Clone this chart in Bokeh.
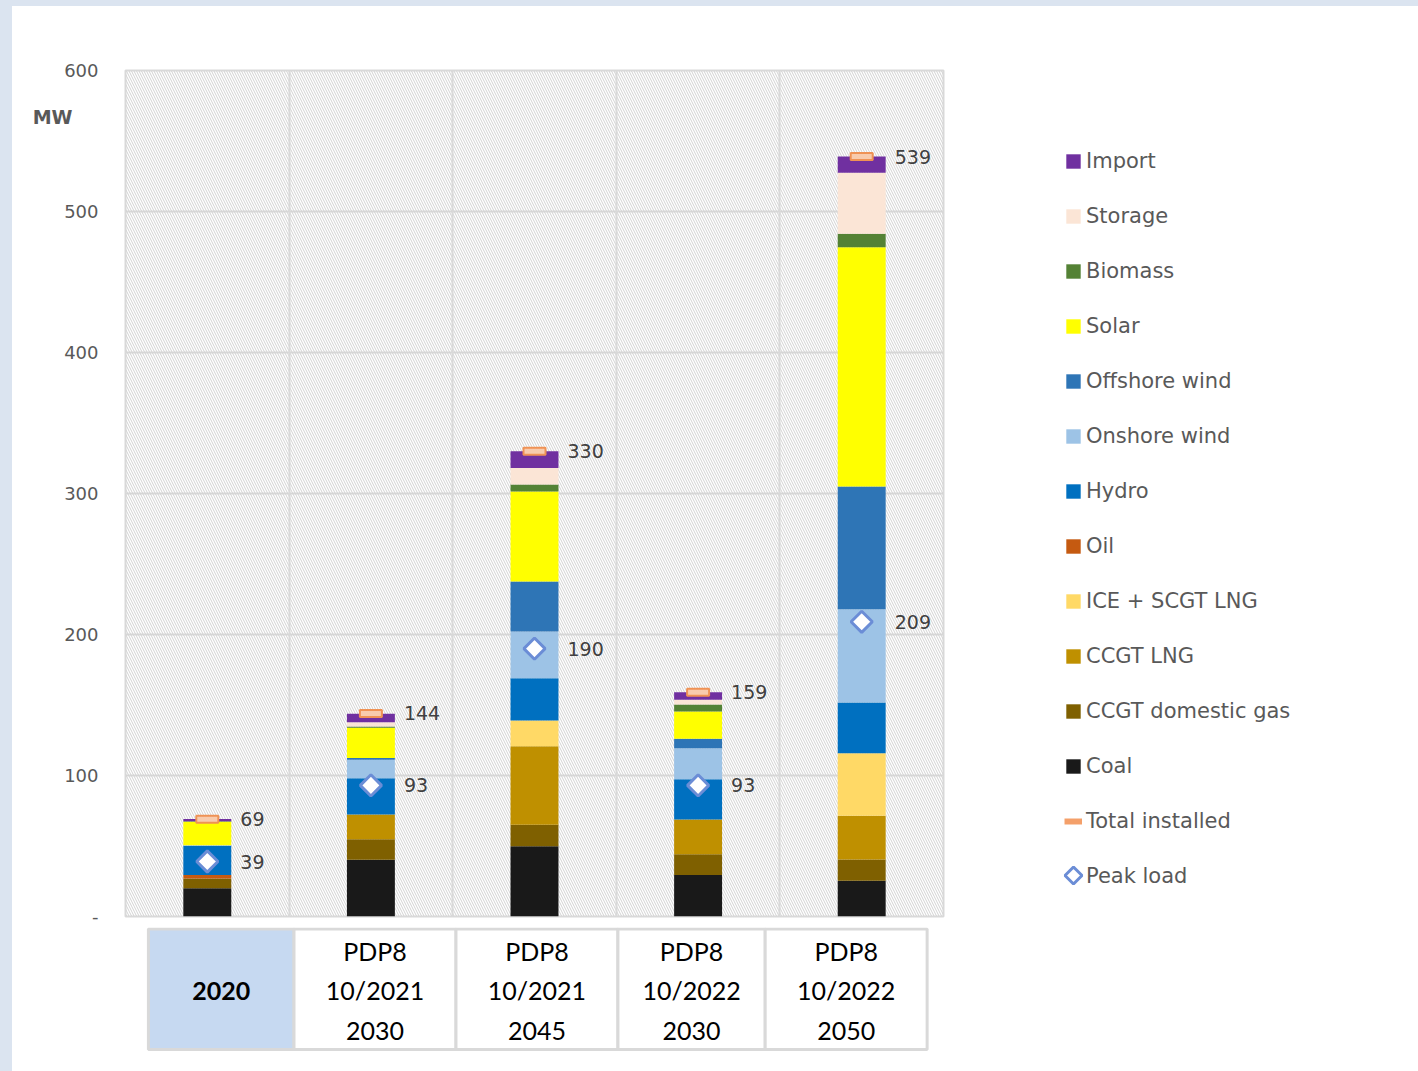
from bokeh.plotting import figure
from bokeh.models import (ColumnDataSource, Range1d, FixedTicker, BoxAnnotation,
                          Legend, LegendItem, Grid, LinearAxis)
from bokeh.layouts import column, row
from bokeh.embed import file_html
from bokeh.resources import INLINE
from bokeh.core.properties import value
import math

# ---------------- data ----------------
scenarios = ["2020", "PDP8\n10/2021\n2030", "PDP8\n10/2021\n2045",
             "PDP8\n10/2022\n2030", "PDP8\n10/2022\n2050"]
coal = [20.0, 40.2, 49.9, 29.5, 25.4]
ccgt_domestic_gas = [7.0, 14.6, 15.1, 14.7, 15.0]
ccgt_lng = [0.0, 17.5, 55.8, 24.6, 31.0]
ice_scgt_lng = [0.0, 0.0, 18.2, 0.0, 44.3]
oil = [2.4, 0.0, 0.0, 0.0, 0.0]
hydro = [20.7, 25.8, 30.0, 28.6, 36.1]
onshore_wind = [0.5, 13.0, 33.1, 22.0, 66.1]
offshore_wind = [0.0, 1.4, 35.5, 6.6, 87.1]
solar = [16.6, 21.3, 63.8, 19.4, 169.6]
biomass = [0.3, 1.0, 5.0, 5.0, 9.7]
storage = [0.0, 3.0, 11.6, 3.3, 43.2]
imports = [1.6, 6.0, 12.0, 5.3, 11.5]
total_installed = [69, 144, 330, 159, 539]
peak_load = [39, 93, 190, 93, 209]
y_ticks = [0, 100, 200, 300, 400, 500, 600]
unit_label = "MW"

series_names = ["Coal", "CCGT domestic gas", "CCGT LNG", "ICE + SCGT LNG", "Oil",
                "Hydro", "Onshore wind", "Offshore wind", "Solar", "Biomass",
                "Storage", "Import"]
series_values = [coal, ccgt_domestic_gas, ccgt_lng, ice_scgt_lng, oil, hydro,
                 onshore_wind, offshore_wind, solar, biomass, storage, imports]
series_colors = ["#191919", "#7f6000", "#bf9000", "#ffd966", "#c55a11", "#0070c0",
                 "#9dc3e6", "#2e75b6", "#ffff00", "#548235", "#fbe5d6", "#7030a0"]

# ---------------- style / layout constants ----------------
FONT = "DejaVu Sans"
TXT = "#595959"
GRID = "#d9d9d9"
TOTAL_FILL, TOTAL_LINE, TOTAL_LEG = "#f8cbad", "#ef9255", "#f4a06a"
PEAK_LINE = "#6b8dd6"
cell_edges = [0.14, 1.03, 2.02, 3.01, 3.91, 4.90]
unit_tick = 567
LEG_W, LEG_H = 418, 1065

xs = [i + 0.5 for i in range(len(scenarios))]
keys = ["s%d" % i for i in range(len(series_names))]
data = dict(x=xs, total=total_installed, peak=peak_load,
            total_lbl=[str(v) for v in total_installed],
            peak_lbl=[str(v) for v in peak_load])
for k, vals in zip(keys, series_values):
    data[k] = vals
src = ColumnDataSource(data)

# ---------------- main chart ----------------
p = figure(width=988, height=921, x_range=Range1d(0, len(scenarios)),
           y_range=Range1d(0, 600), output_backend="svg", toolbar_location=None,
           x_axis_type=None, min_border_left=113, min_border_right=57,
           min_border_top=64, min_border_bottom=11)
p.background_fill_color = "white"
p.border_fill_color = "white"
p.outline_line_color = GRID
p.outline_line_width = 2

p.add_layout(BoxAnnotation(fill_alpha=0, line_color=None, level="underlay",
                           hatch_pattern="left_diagonal_line", hatch_color="#d2d2d2",
                           hatch_scale=5, hatch_weight=1))

p.ygrid.ticker = FixedTicker(ticks=y_ticks)
p.ygrid.grid_line_color = GRID
p.ygrid.grid_line_width = 2
p.add_layout(Grid(dimension=0, ticker=FixedTicker(ticks=[1, 2, 3, 4]),
                  grid_line_color=GRID, grid_line_width=2))

ya = p.yaxis[0]
ya.ticker = FixedTicker(ticks=y_ticks)
ya.major_label_overrides = {0: "-"}
ya.axis_line_color = None
ya.major_tick_line_color = None
ya.minor_tick_line_color = None
ya.major_tick_out = 0
ya.major_tick_in = 0
ya.major_label_standoff = 27
ya.major_label_text_font = FONT
ya.major_label_text_font_size = "18px"
ya.major_label_text_color = TXT

# unit label as an outer axis
ua = LinearAxis(ticker=FixedTicker(ticks=[unit_tick]),
                major_label_overrides={unit_tick: unit_label},
                axis_line_color=None, major_tick_line_color=None,
                minor_tick_line_color=None, major_tick_out=0, major_tick_in=0,
                major_label_standoff=-11, major_label_text_font=FONT,
                major_label_text_font_style="bold", major_label_text_font_size="19px",
                major_label_text_color=TXT)
p.add_layout(ua, "left")

bars = p.vbar_stack(keys, x="x", width=0.293, color=series_colors,
                    line_color=None, source=src)

p.rect(x="x", y="total", width=22, height=7, width_units="screen",
       height_units="screen", fill_color=TOTAL_FILL, line_color=TOTAL_LINE,
       line_width=2, source=src)

p.scatter(x="x", y="peak", marker="square", angle=math.pi / 4, size=15,
          fill_color="white", line_color=PEAK_LINE, line_width=3, source=src)

p.text(x="x", y="total", text="total_lbl", x_offset=33, text_baseline="middle",
       text_align="left", text_font=value(FONT), text_font_size="19px",
       text_color="#404040", source=src)
p.text(x="x", y="peak", text="peak_lbl", x_offset=33, text_baseline="middle",
       text_align="left", text_font=value(FONT), text_font_size="19px",
       text_color="#404040", source=src)

# ---------------- category table ----------------
t = figure(width=988, height=144, x_range=p.x_range, y_range=Range1d(144, 0),
           output_backend="svg", toolbar_location=None, x_axis_type=None,
           y_axis_type=None, min_border_left=113, min_border_right=57,
           min_border_top=0, min_border_bottom=0)
t.outline_line_color = None
t.background_fill_color = "white"
t.border_fill_color = "white"

tsrc = ColumnDataSource(dict(
    left=cell_edges[:-1], right=cell_edges[1:],
    xc=[(a + b) / 2 for a, b in zip(cell_edges[:-1], cell_edges[1:])],
    fill=["#c6d9f1"] + ["white"] * (len(scenarios) - 1),
    style=["bold"] + ["normal"] * (len(scenarios) - 1),
    label=scenarios))
t.quad(left="left", right="right", top=1.5, bottom=122, fill_color="fill",
       line_color=GRID, line_width=3, source=tsrc)
t.text(x="xc", y=63, text="label", text_align="center", text_baseline="middle",
       text_font=value("Lato"), text_font_size="25px", text_font_style="style",
       text_line_height=1.33, text_color="black", source=tsrc)

# ---------------- legend panel (pixel-scaled ranges) ----------------
lg = figure(width=LEG_W, height=LEG_H, x_range=Range1d(0, LEG_W),
            y_range=Range1d(0, LEG_H), output_backend="svg", toolbar_location=None,
            x_axis_type=None, y_axis_type=None, min_border=0)
lg.outline_line_color = None
lg.background_fill_color = "white"
lg.border_fill_color = "white"

# legend proxies, parked outside the visible range
proxy = [lg.vbar(x=[-50], top=[-40], bottom=[-50], width=5, color=c, line_color=None)
         for c in series_colors]
total_proxy = lg.line(x=[-50, -40], y=[-50, -50], line_color=TOTAL_LEG, line_width=6)
peak_proxy = lg.scatter(x=[-50], y=[-50], marker="square", size=1,
                        fill_alpha=0, line_alpha=0)
# visible peak-load key symbol (rotated square), at the legend glyph slot
lg.scatter(x=[73], y=[196], marker="square", angle=math.pi / 4, size=12,
           fill_color="white", line_color=PEAK_LINE, line_width=3)

items = [LegendItem(label=n, renderers=[r]) for n, r in zip(series_names, proxy)]
items = items[::-1] + [LegendItem(label="Total installed", renderers=[total_proxy]),
                       LegendItem(label="Peak load", renderers=[peak_proxy])]
legA = Legend(items=items, location=(64, 183), glyph_width=18, glyph_height=18,
              label_height=25, spacing=30, label_standoff=4, padding=0, margin=0,
              border_line_color=None, background_fill_alpha=0,
              label_text_font=FONT, label_text_font_size="21px",
              label_text_color=TXT)
lg.add_layout(legA)

inner = row(column(p, t), lg, margin=(6, 0, 0, 12),
            styles={"background-color": "white"})
layout = column(inner, styles={"background-color": "#dbe4f0"})
open("out.html", "w").write(file_html(layout, INLINE))
